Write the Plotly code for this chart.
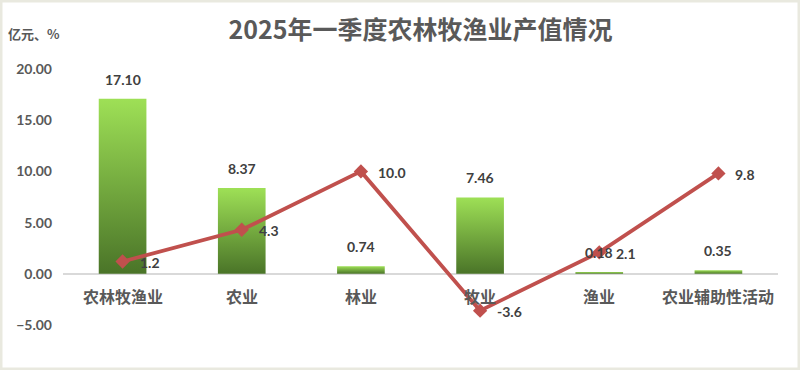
import plotly.graph_objects as go

categories = ["农林牧渔业", "农业", "林业", "牧业", "渔业", "农业辅助性活动"]
output_values = [17.10, 8.37, 0.74, 7.46, 0.18, 0.35]
growth_values = [1.2, 4.3, 10.0, -3.6, 2.1, 9.8]
y_tick_vals = [-5, 0, 5, 10, 15, 20]

BAR_W = 0.4
NUM_FONT = "Lato, 'Noto Sans CJK SC', sans-serif"
CJK_FONT = "'Noto Sans CJK SC', sans-serif"
GRAY = "#595959"

fig = go.Figure()
xs = list(range(len(categories)))

for i, v in zip(xs, output_values):
    fig.add_trace(go.Scatter(
        x=[i - BAR_W / 2, i + BAR_W / 2, i + BAR_W / 2, i - BAR_W / 2, i - BAR_W / 2],
        y=[0, 0, v, v, 0],
        mode="lines", line=dict(width=0), fill="toself",
        fillgradient=dict(type="vertical",
                          colorscale=[[0, "#4a7428"], [1, "#9ee056"]]),
        showlegend=False, hoverinfo="skip",
    ))

fig.add_trace(go.Scatter(
    x=xs, y=growth_values, mode="lines+markers",
    line=dict(color="#c0504d", width=3.8),
    marker=dict(symbol="diamond", size=11, color="#c0504d"),
    showlegend=False,
))

annotations = []
for i, v in zip(xs, output_values):
    annotations.append(dict(x=i, y=v, text=f"{v:.2f}", showarrow=False,
                            yanchor="bottom", yshift=9,
                            font=dict(family=NUM_FONT, size=14, color="#404040", weight="bold")))
for i, v in zip(xs, growth_values):
    annotations.append(dict(x=i, y=v, text=f"{v:.1f}", showarrow=False,
                            xanchor="left", xshift=15, yshift=-1,
                            font=dict(family=NUM_FONT, size=14, color="#404040", weight="bold")))
for i, c in zip(xs, categories):
    annotations.append(dict(x=i, y=0, text=c, showarrow=False,
                            yanchor="top", yshift=-8,
                            font=dict(family=CJK_FONT, size=16, color=GRAY, weight="bold")))
annotations.append(dict(xref="paper", yref="paper", x=0, y=1.14, xanchor="right",
                        yanchor="middle", xshift=-1, text="亿元、%", showarrow=False,
                        font=dict(family=CJK_FONT, size=13, color=GRAY, weight="bold")))

fig.update_layout(
    width=800, height=370,
    margin=dict(l=63, r=22, t=69, b=45),
    paper_bgcolor="white", plot_bgcolor="white",
    title=dict(text="2025年一季度农林牧渔业产值情况", x=0.5, xref="paper", xanchor="center",
               y=1 - 30 / 370, yanchor="middle",
               font=dict(family=CJK_FONT, size=25, color=GRAY, weight="bold")),
    xaxis=dict(range=[-0.5, len(categories) - 0.5], showticklabels=False, showgrid=False,
               zeroline=False, showline=False, ticks=""),
    yaxis=dict(range=[-5, 20], tickvals=y_tick_vals, tickformat=".2f",
               showgrid=False, zeroline=True, zerolinecolor="#d9d9d9", zerolinewidth=1.5,
               ticks="", ticklabelstandoff=10,
               tickfont=dict(family=NUM_FONT, size=14, color=GRAY, weight="bold")),
    annotations=annotations,
    shapes=[dict(type="rect", xref="paper", yref="paper",
                 x0=-62 / 715, x1=1 + 21 / 715, y0=-44 / 256, y1=1 + 68 / 256,
                 line=dict(color="#e9e9df", width=3), fillcolor="rgba(0,0,0,0)")],
)

fig.write_html("out.html", config={"displayModeBar": False},
               post_script="document.body.style.margin='0';")
